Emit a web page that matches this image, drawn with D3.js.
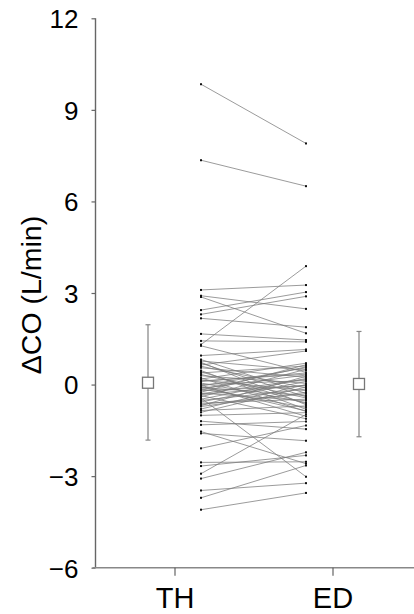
<!DOCTYPE html>
<html>
<head>
<meta charset="utf-8">
<script src="https://cdn.jsdelivr.net/npm/d3@7"></script>
<style>
  html, body { margin: 0; padding: 0; background: #fff; }
  svg { display: block; }
  text { font-family: "Liberation Sans", Arial, sans-serif; fill: #000; }
</style>
</head>
<body>
<svg id="chart" width="414" height="614"></svg>
<script>
// ---- data ----
const categories = ["TH", "ED"];
const yTicks = [-6, -3, 0, 3, 6, 9, 12];
const yLabel = "\u0394CO (L/min)";

// paired subject values (index i: TH value -> ED value)
const thValues = [
  9.84, 7.35, 1.31, 3.10, 2.91, 2.87, 2.44, 2.30, 2.17, 1.66, 1.43, 1.27, 0.95,
  -4.10, -3.71, -3.47, -3.08, -2.92, -2.67, -2.55, -2.09, -1.54, -1.60, -0.44, -1.20, -1.32,
  0.82, 0.77, 0.73, 0.64, 0.60, 0.55, 0.46, 0.38, 0.33, 0.29, 0.22, 0.18, 0.15, 0.10,
  0.05, 0.00, -0.02, -0.05, -0.09, -0.12, -0.14, -0.20, -0.25, -0.28, -0.30, -0.36,
  -0.40, -0.52, -0.57, -0.61, -0.69, -0.72, -0.80, -0.85, -0.91, -1.01,
  0.70, 0.42, 0.12, -0.07, -0.17, -0.33, -0.48, -0.65
];
const edValues = [
  7.90, 6.50, 3.88, 3.26, 2.48, 1.68, 3.03, 2.89, 1.88, 1.46, 1.40, 0.40, 1.15,
  -3.55, -2.65, -3.23, -2.22, -0.98, -2.32, -2.53, -1.34, -2.59, -1.84, -3.02, -1.46, -1.21,
  -0.29, 0.47, -0.66, 1.10, -0.11, 0.24, -0.81, 0.61, -0.44, 0.04, -0.88, 0.70, -0.20, 0.38,
  -0.59, 0.13, -1.04, 0.55, -0.36, 0.31, -0.75, -0.04, 0.65, -0.53, 0.17, -1.12,
  0.50, -0.15, 0.10, -0.48, 0.27, -0.25, 0.00, -0.70, -0.08, -0.92,
  -0.40, -0.62, 0.34, -0.86, 0.58, -0.02, 0.20, -0.30
];

// group summary markers
const meanValues = [0.06, 0.02];
const upperValues = [1.96, 1.74];
const lowerValues = [-1.82, -1.71];

// ---- layout ----
const svg = d3.select("#chart");
const axisX = 95.5;
const axisBottom = 567.7;
const y = d3.scaleLinear().domain([-6, 12]).range([axisBottom, 18.3]);
const x = d3.scalePoint().domain(categories).range([174.5, 332.5]);
const pairOffset = 26.5;   // data columns sit inward of the category tick
const meanOffset = 26.5;   // summary markers sit outward of the category tick

const dataX = c => x(c) + (c === "TH" ? pairOffset : -pairOffset);
const meanX = c => x(c) + (c === "TH" ? -meanOffset : meanOffset);

// ---- paired lines ----
const pairs = thValues.map((v, i) => ({ th: v, ed: edValues[i] }));
svg.append("g").selectAll("line").data(pairs).join("line")
  .attr("x1", dataX("TH")).attr("y1", d => y(d.th))
  .attr("x2", dataX("ED")).attr("y2", d => y(d.ed))
  .attr("stroke", "#7a7a7a").attr("stroke-width", 0.75);

// ---- points ----
const pts = [];
pairs.forEach(d => { pts.push({ c: "TH", v: d.th }); pts.push({ c: "ED", v: d.ed }); });
svg.append("g").selectAll("rect").data(pts).join("rect")
  .attr("x", d => dataX(d.c) - 1).attr("y", d => y(d.v) - 1)
  .attr("width", 2).attr("height", 2).attr("fill", "#111");

// ---- summary markers ----
const summary = categories.map((c, i) => ({ c, m: meanValues[i], hi: upperValues[i], lo: lowerValues[i] }));
const sg = svg.append("g");
sg.selectAll("line.whisk").data(summary).join("line").attr("class", "whisk")
  .attr("x1", d => meanX(d.c)).attr("x2", d => meanX(d.c))
  .attr("y1", d => y(d.hi)).attr("y2", d => y(d.lo))
  .attr("stroke", "#b4b4b4").attr("stroke-width", 2);
["hi", "lo"].forEach(k => {
  sg.selectAll("line.cap" + k).data(summary).join("line").attr("class", "cap" + k)
    .attr("x1", d => meanX(d.c) - 2.5).attr("x2", d => meanX(d.c) + 2.5)
    .attr("y1", d => y(d[k])).attr("y2", d => y(d[k]))
    .attr("stroke", "#888").attr("stroke-width", 1.2);
});
sg.selectAll("rect").data(summary).join("rect")
  .attr("x", d => meanX(d.c) - 5.5).attr("y", d => y(d.m) - 5.5)
  .attr("width", 11).attr("height", 11)
  .attr("fill", "#fff").attr("stroke", "#777").attr("stroke-width", 1.3);

// ---- axes ----
const yAxis = svg.append("g").attr("transform", `translate(${axisX},0)`)
  .call(d3.axisLeft(y).tickValues(yTicks).tickSize(4).tickPadding(13));
yAxis.select(".domain").attr("d", `M0,${y(12)}V${axisBottom}`).attr("stroke", "#666").attr("stroke-width", 1.4);
yAxis.selectAll(".tick line").attr("stroke", "#666").attr("stroke-width", 1.2);
yAxis.selectAll(".tick text").attr("font-size", 26).attr("font-family", "Liberation Sans, Arial, sans-serif")
  .attr("fill", "#000").attr("dy", "0.36em");

const xAxis = svg.append("g").attr("transform", `translate(0,${axisBottom})`)
  .call(d3.axisBottom(x).tickSize(8).tickPadding(12));
xAxis.select(".domain").attr("d", `M${axisX - 3},0H414`).attr("stroke", "#888").attr("stroke-width", 1.4);
xAxis.selectAll(".tick line").attr("stroke", "#555").attr("stroke-width", 1.1);
xAxis.selectAll(".tick text").attr("font-size", 29).attr("font-family", "Liberation Sans, Arial, sans-serif")
  .attr("fill", "#000").attr("dy", "0.71em");

// ---- y label ----
svg.append("text")
  .attr("transform", `translate(41,295) rotate(-90)`)
  .attr("text-anchor", "middle")
  .attr("font-size", 28.5)
  .text(yLabel);
</script>
</body>
</html>
